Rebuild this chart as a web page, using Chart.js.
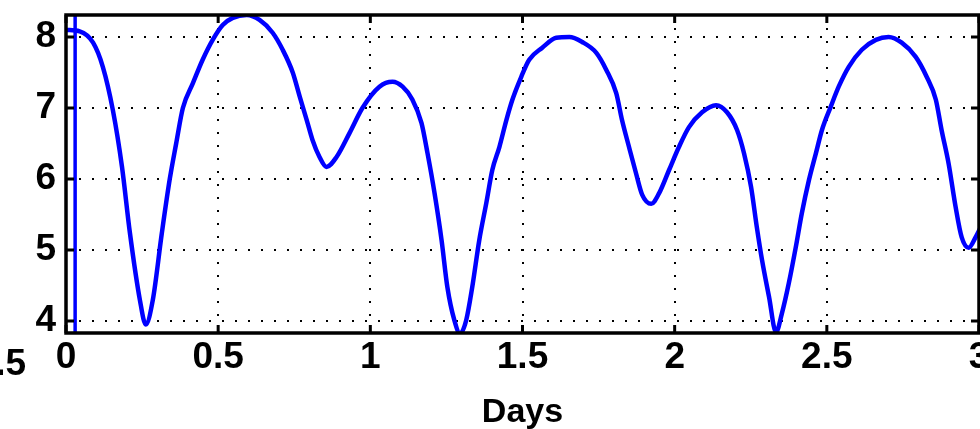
<!DOCTYPE html>
<html>
<head>
<meta charset="utf-8">
<script src="https://cdn.jsdelivr.net/npm/chart.js@4/dist/chart.umd.min.js"></script>
<style>
  html, body { margin: 0; padding: 0; background: #fff; }
  #wrap { width: 980px; height: 429px; }
</style>
</head>
<body>
<div id="wrap"><canvas id="chart" width="980" height="429"></canvas></div>
<script>
// values
var days = [0.0, 0.045, 0.089, 0.121, 0.154, 0.184, 0.21, 0.243, 0.262, 0.285, 0.315, 0.341, 0.362, 0.384, 0.417, 0.449, 0.482, 0.515, 0.548, 0.594,
  0.636, 0.679, 0.712, 0.745, 0.768, 0.791, 0.810, 0.833, 0.856, 0.889, 0.932, 0.974, 1.030, 1.073, 1.106, 1.138, 1.168, 1.188, 1.211, 1.234,
  1.253, 1.276, 1.295, 1.315, 1.335, 1.358, 1.381, 1.401, 1.424, 1.447, 1.467, 1.496, 1.522, 1.565, 1.611, 1.654, 1.696, 1.742, 1.775, 1.808,
  1.827, 1.850, 1.873, 1.893, 1.923, 1.949, 1.982, 2.014, 2.047, 2.090, 2.136, 2.172, 2.205, 2.228, 2.251, 2.270, 2.287, 2.310, 2.333, 2.352,
  2.375, 2.398, 2.418, 2.441, 2.464, 2.484, 2.513, 2.539, 2.572, 2.615, 2.661, 2.703, 2.746, 2.792, 2.828, 2.858, 2.877, 2.900, 2.923, 2.943,
  2.966, 2.989, 3.02];
var levels = [8.10, 8.08, 7.92, 7.58, 6.97, 6.17, 5.24, 4.29, 3.95, 4.29, 5.24, 6.00, 6.50, 7.00, 7.35, 7.68, 7.96, 8.17, 8.27, 8.31,
  8.24, 8.06, 7.82, 7.50, 7.16, 6.83, 6.55, 6.31, 6.17, 6.31, 6.65, 7.00, 7.30, 7.37, 7.30, 7.12, 6.79, 6.36, 5.80, 5.14,
  4.48, 4.01, 3.82, 4.01, 4.48, 5.14, 5.66, 6.13, 6.45, 6.83, 7.12, 7.44, 7.68, 7.85, 7.99, 8.00, 7.93, 7.78, 7.54, 7.21,
  6.83, 6.45, 6.08, 5.78, 5.65, 5.80, 6.13, 6.45, 6.73, 6.94, 7.04, 6.94, 6.69, 6.36, 5.89, 5.32, 4.86, 4.34, 3.84, 4.10,
  4.53, 5.04, 5.52, 5.98, 6.36, 6.69, 7.02, 7.30, 7.58, 7.82, 7.96, 8.00, 7.92, 7.72, 7.44, 7.12, 6.69, 6.22, 5.61, 5.18,
  5.03, 5.18, 5.45];
var markerDay = [0.03, 0.03];
var markerLevel = [3.0, 9.0];
var xTicks = [0, 0.5, 1, 1.5, 2, 2.5, 3];
var yTicks = [4, 5, 6, 7, 8];
var xRange = [0, 3];
var yRange = [3.83, 8.31];
var xTitle = 'Days';
var strayLabel = '3.5';

var FONT = '"Liberation Sans", Arial, Helvetica, sans-serif';

function toPoints(xs, ys) {
  return xs.map(function (x, i) { return { x: x, y: ys[i] }; });
}

function noPad(s) {
  s.paddingTop = 0; s.paddingBottom = 0; s.paddingLeft = 0; s.paddingRight = 0;
}

// frame with inward tick marks, matlab style
var framePlugin = {
  id: 'frame',
  afterDatasetsDraw: function (chart) {
    var ctx = chart.ctx, a = chart.chartArea;
    var xs = chart.scales.x, ys = chart.scales.y;
    var len = 8;
    ctx.save();
    ctx.strokeStyle = '#000';
    ctx.lineWidth = 3.5;
    ctx.strokeRect(a.left, a.top, a.right - a.left, a.bottom - a.top);
    ctx.lineWidth = 3;
    ctx.beginPath();
    xTicks.forEach(function (v) {
      var px = xs.getPixelForValue(v);
      ctx.moveTo(px, a.bottom); ctx.lineTo(px, a.bottom - len);
      ctx.moveTo(px, a.top); ctx.lineTo(px, a.top + len);
    });
    yTicks.forEach(function (v) {
      var py = ys.getPixelForValue(v);
      ctx.moveTo(a.left, py); ctx.lineTo(a.left + len, py);
      ctx.moveTo(a.right, py); ctx.lineTo(a.right - len, py);
    });
    ctx.stroke();
    ctx.restore();
  },
  afterDraw: function (chart) {
    // label of the neighbouring axis, cut by the crop
    var ctx = chart.ctx;
    ctx.save();
    ctx.font = 'bold 37px ' + FONT;
    ctx.fillStyle = '#000';
    ctx.textAlign = 'right';
    ctx.textBaseline = 'alphabetic';
    ctx.fillText(strayLabel, 26, 375);
    ctx.restore();
  }
};

new Chart(document.getElementById('chart'), {
  type: 'line',
  data: {
    datasets: [
      {
        data: toPoints(days, levels),
        borderColor: '#0000ff',
        borderWidth: 4.5,
        pointRadius: 0,
        cubicInterpolationMode: 'monotone',
        fill: false,
        clip: 0
      },
      {
        data: toPoints(markerDay, markerLevel),
        borderColor: '#0000ff',
        borderWidth: 3.5,
        pointRadius: 0,
        fill: false,
        clip: 0
      }
    ]
  },
  options: {
    responsive: false,
    animation: false,
    events: [],
    layout: { padding: { top: 15, right: 1, left: 0, bottom: 0 } },
    plugins: { legend: { display: false }, tooltip: { enabled: false } },
    scales: {
      x: {
        type: 'linear',
        min: xRange[0],
        max: xRange[1],
        afterFit: function (s) { s.height = 96; noPad(s); },
        afterBuildTicks: function (s) { s.ticks = xTicks.map(function (v) { return { value: v }; }); },
        ticks: {
          padding: 3,
          maxRotation: 0,
          color: '#000',
          font: { family: FONT, size: 37, weight: 'bold' },
          callback: function (v) { return String(v); }
        },
        grid: { color: '#000', lineWidth: 2, drawTicks: false },
        border: { display: false, dash: [2, 11] },
        title: {
          display: true,
          text: xTitle,
          color: '#000',
          font: { family: FONT, size: 34, weight: 'bold' },
          padding: { top: 0, bottom: -4 }
        }
      },
      y: {
        type: 'linear',
        min: yRange[0],
        max: yRange[1],
        afterFit: function (s) { s.width = 66; noPad(s); },
        afterBuildTicks: function (s) { s.ticks = yTicks.map(function (v) { return { value: v }; }); },
        ticks: {
          padding: 10,
          color: '#000',
          font: { family: FONT, size: 37, weight: 'bold' },
          callback: function (v) { return String(v); }
        },
        grid: { color: '#000', lineWidth: 2, drawTicks: false },
        border: { display: false, dash: [2, 11] }
      }
    }
  },
  plugins: [framePlugin]
});
</script>
</body>
</html>
